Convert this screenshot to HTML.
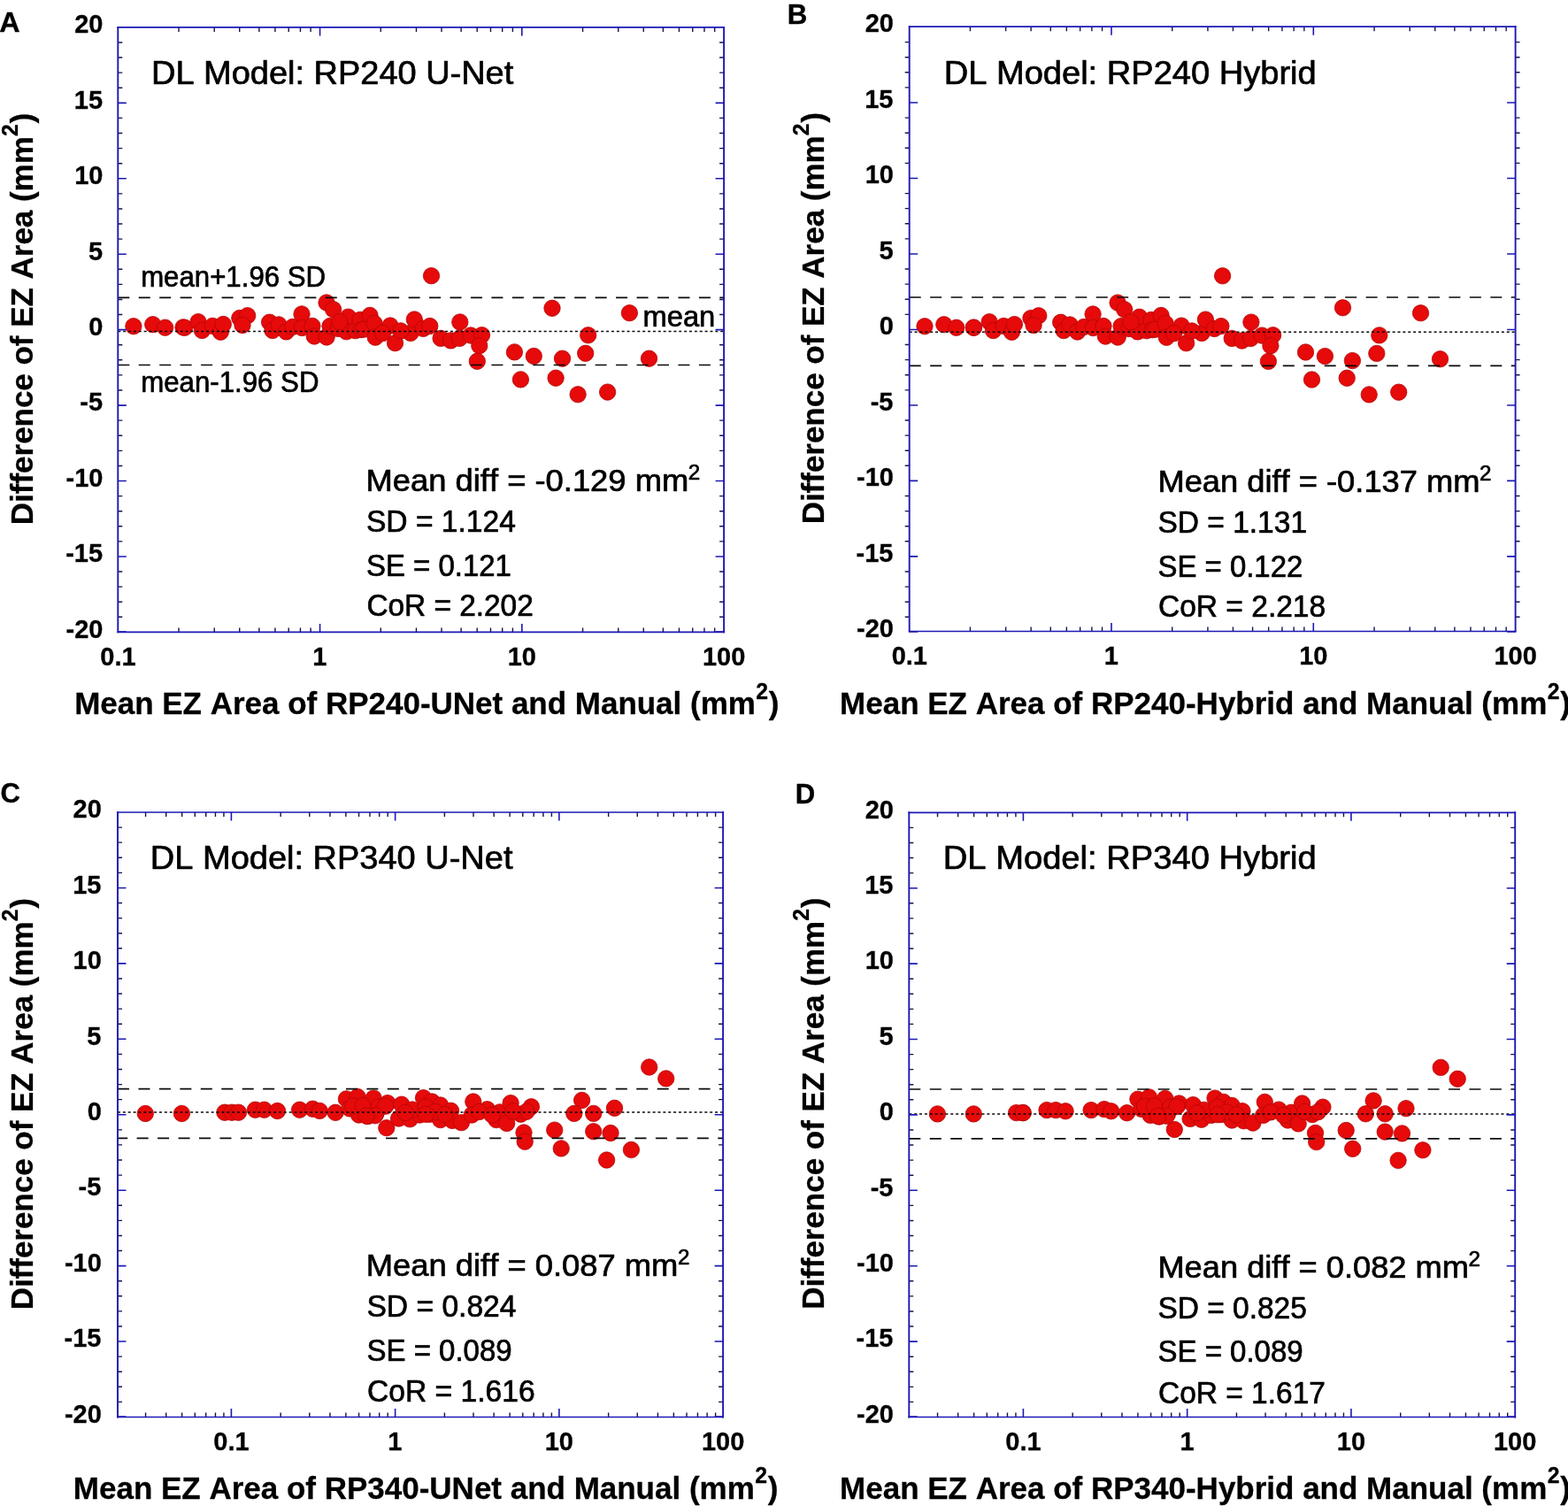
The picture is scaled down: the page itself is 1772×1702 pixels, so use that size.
<!DOCTYPE html>
<html lang="en"><head><meta charset="utf-8"><title>Bland-Altman plots of EZ area</title>
<style>html,body{margin:0;padding:0;background:#fff;overflow:hidden}svg{display:block}text{font-family:"Liberation Sans",Arial,Helvetica,sans-serif;fill:#000;font-kerning:none}.b{font-weight:bold;stroke:#000;stroke-width:0.3px;stroke-linejoin:round}.r{stroke:#000;stroke-width:0.7px;stroke-linejoin:round}</style></head><body>
<svg width="1772" height="1702" viewBox="0 0 1772 1702">
<rect width="1772" height="1702" fill="#ffffff"/>
<g id="panel-A">
<g fill="#e60a0a" stroke="#b40606" stroke-width="0.8">
<circle cx="150.9" cy="368.7" r="9.2"/>
<circle cx="172.7" cy="366.7" r="9.2"/>
<circle cx="186.6" cy="370.2" r="9.2"/>
<circle cx="207" cy="369.9" r="9.2"/>
<circle cx="208.7" cy="370.3" r="9.2"/>
<circle cx="224" cy="363.7" r="9.2"/>
<circle cx="228.4" cy="373.5" r="9.2"/>
<circle cx="240.2" cy="368.4" r="9.2"/>
<circle cx="249.3" cy="375.2" r="9.2"/>
<circle cx="252.3" cy="366.5" r="9.2"/>
<circle cx="270.8" cy="359.5" r="9.2"/>
<circle cx="279.7" cy="356.7" r="9.2"/>
<circle cx="274" cy="367.5" r="9.2"/>
<circle cx="304.6" cy="364.2" r="9.2"/>
<circle cx="308" cy="373.5" r="9.2"/>
<circle cx="315" cy="366.9" r="9.2"/>
<circle cx="323.5" cy="374.9" r="9.2"/>
<circle cx="330.8" cy="369.4" r="9.2"/>
<circle cx="341" cy="354.9" r="9.2"/>
<circle cx="341.3" cy="370.5" r="9.2"/>
<circle cx="352.9" cy="368.4" r="9.2"/>
<circle cx="355.2" cy="380" r="9.2"/>
<circle cx="369" cy="342" r="9.2"/>
<circle cx="376.6" cy="349.7" r="9.2"/>
<circle cx="369.1" cy="381" r="9.2"/>
<circle cx="373" cy="368.5" r="9.2"/>
<circle cx="382" cy="371.4" r="9.2"/>
<circle cx="393.5" cy="358.2" r="9.2"/>
<circle cx="391.5" cy="374.8" r="9.2"/>
<circle cx="401.6" cy="373.7" r="9.2"/>
<circle cx="407" cy="361.4" r="9.2"/>
<circle cx="408.2" cy="372.6" r="9.2"/>
<circle cx="411.1" cy="372.1" r="9.2"/>
<circle cx="418" cy="356.4" r="9.2"/>
<circle cx="423" cy="365.4" r="9.2"/>
<circle cx="424.2" cy="381.2" r="9.2"/>
<circle cx="441" cy="368" r="9.2"/>
<circle cx="446.5" cy="387.7" r="9.2"/>
<circle cx="464" cy="376.4" r="9.2"/>
<circle cx="468.3" cy="361" r="9.2"/>
<circle cx="478.3" cy="371.4" r="9.2"/>
<circle cx="485.8" cy="368.5" r="9.2"/>
<circle cx="487.5" cy="311.7" r="9.2"/>
<circle cx="498.1" cy="382.4" r="9.2"/>
<circle cx="509.4" cy="384.9" r="9.2"/>
<circle cx="519.8" cy="364" r="9.2"/>
<circle cx="519.3" cy="382.4" r="9.2"/>
<circle cx="532" cy="379" r="9.2"/>
<circle cx="544.5" cy="378.7" r="9.2"/>
<circle cx="541.8" cy="390.7" r="9.2"/>
<circle cx="539.3" cy="408.3" r="9.2"/>
<circle cx="581.4" cy="397.9" r="9.2"/>
<circle cx="624" cy="348.3" r="9.2"/>
<circle cx="711.4" cy="353.7" r="9.2"/>
<circle cx="664.7" cy="378.8" r="9.2"/>
<circle cx="603.3" cy="402.5" r="9.2"/>
<circle cx="635.5" cy="405.2" r="9.2"/>
<circle cx="661.7" cy="399.3" r="9.2"/>
<circle cx="733.5" cy="405.2" r="9.2"/>
<circle cx="588.4" cy="428.9" r="9.2"/>
<circle cx="628.1" cy="427.2" r="9.2"/>
<circle cx="653.1" cy="445.8" r="9.2"/>
<circle cx="686.6" cy="443.1" r="9.2"/>
<circle cx="383.8" cy="363.7" r="9.2"/>
<circle cx="432.5" cy="376.6" r="9.2"/>
<circle cx="452.8" cy="373.9" r="9.2"/>
</g>
<g stroke="#0a0a0a" fill="none">
<line x1="133.3" y1="336.4" x2="818.1" y2="336.4" stroke-width="1.7" stroke-dasharray="13 10.45"/>
<line x1="133.3" y1="412.5" x2="818.1" y2="412.5" stroke-width="1.7" stroke-dasharray="13 10.45"/>
<line x1="133.3" y1="374.6" x2="818.1" y2="374.6" stroke-width="1.5" stroke-dasharray="3 2.87"/>
</g>
<path d="M133.3 697.31h5M818.1 697.31h-5M133.3 680.22h5M818.1 680.22h-5M133.3 663.14h5M818.1 663.14h-5M133.3 646.05h5M818.1 646.05h-5M133.3 611.87h5M818.1 611.87h-5M133.3 594.79h5M818.1 594.79h-5M133.3 577.7h5M818.1 577.7h-5M133.3 560.61h5M818.1 560.61h-5M133.3 526.44h5M818.1 526.44h-5M133.3 509.35h5M818.1 509.35h-5M133.3 492.26h5M818.1 492.26h-5M133.3 475.17h5M818.1 475.17h-5M133.3 441h5M818.1 441h-5M133.3 423.91h5M818.1 423.91h-5M133.3 406.82h5M818.1 406.82h-5M133.3 389.74h5M818.1 389.74h-5M133.3 355.56h5M818.1 355.56h-5M133.3 338.47h5M818.1 338.47h-5M133.3 321.39h5M818.1 321.39h-5M133.3 304.3h5M818.1 304.3h-5M133.3 270.12h5M818.1 270.12h-5M133.3 253.04h5M818.1 253.04h-5M133.3 235.95h5M818.1 235.95h-5M133.3 218.86h5M818.1 218.86h-5M133.3 184.69h5M818.1 184.69h-5M133.3 167.6h5M818.1 167.6h-5M133.3 150.51h5M818.1 150.51h-5M133.3 133.42h5M818.1 133.42h-5M133.3 99.25h5M818.1 99.25h-5M133.3 82.16h5M818.1 82.16h-5M133.3 65.07h5M818.1 65.07h-5M133.3 47.99h5M818.1 47.99h-5M202.02 714.9v-5.5M202.02 30.9v5M242.21 714.9v-5.5M242.21 30.9v5M270.73 714.9v-5.5M270.73 30.9v5M292.85 714.9v-5.5M292.85 30.9v5M310.93 714.9v-5.5M310.93 30.9v5M326.21 714.9v-5.5M326.21 30.9v5M339.45 714.9v-5.5M339.45 30.9v5M351.12 714.9v-5.5M351.12 30.9v5M430.28 714.9v-5.5M430.28 30.9v5M470.48 714.9v-5.5M470.48 30.9v5M499 714.9v-5.5M499 30.9v5M521.12 714.9v-5.5M521.12 30.9v5M539.19 714.9v-5.5M539.19 30.9v5M554.47 714.9v-5.5M554.47 30.9v5M567.71 714.9v-5.5M567.71 30.9v5M579.39 714.9v-5.5M579.39 30.9v5M658.55 714.9v-5.5M658.55 30.9v5M698.74 714.9v-5.5M698.74 30.9v5M727.26 714.9v-5.5M727.26 30.9v5M749.38 714.9v-5.5M749.38 30.9v5M767.46 714.9v-5.5M767.46 30.9v5M782.74 714.9v-5.5M782.74 30.9v5M795.98 714.9v-5.5M795.98 30.9v5M807.66 714.9v-5.5M807.66 30.9v5" stroke="#16144a" stroke-width="1.4" fill="none"/>
<path d="M133.3 714h9.5M818.1 714h-9.5M133.3 628.96h9.5M818.1 628.96h-9.5M133.3 543.52h9.5M818.1 543.52h-9.5M133.3 458.09h9.5M818.1 458.09h-9.5M133.3 372.65h9.5M818.1 372.65h-9.5M133.3 287.21h9.5M818.1 287.21h-9.5M133.3 201.78h9.5M818.1 201.78h-9.5M133.3 116.34h9.5M818.1 116.34h-9.5M361.57 714.4v-9.5M361.57 30.9v9.5M589.83 714.4v-9.5M589.83 30.9v9.5" stroke="#1c18b4" stroke-width="1.6" fill="none"/>
<path d="M133.3 30.9H818.1M133.3 714.4H818.1" stroke="#1c18b4" stroke-width="1.7" fill="none" stroke-linecap="square"/>
<path d="M133.3 30.9V714.4M818.1 30.9V714.4" stroke="#1c18b4" stroke-width="1.9" fill="none" stroke-linecap="square"/>
<text class="b" transform="translate(84.23 37.2) scale(1 1.04)" font-size="29">20</text>
<text class="b" transform="translate(83.85 122.64) scale(1 1.04)" font-size="29">15</text>
<text class="b" transform="translate(84.23 208.08) scale(1 1.04)" font-size="29">10</text>
<text class="b" transform="translate(99.98 293.51) scale(1 1.04)" font-size="29">5</text>
<text class="b" transform="translate(100.36 378.95) scale(1 1.04)" font-size="29">0</text>
<text class="b" transform="translate(90.32 464.39) scale(1 1.04)" font-size="29">-5</text>
<text class="b" transform="translate(74.58 549.82) scale(1 1.04)" font-size="29">-10</text>
<text class="b" transform="translate(74.19 635.26) scale(1 1.04)" font-size="29">-15</text>
<text class="b" transform="translate(74.58 720.7) scale(1 1.04)" font-size="29">-20</text>
<text class="b" transform="translate(113.27 752.2) scale(1 1.04)" font-size="29">0.1</text>
<text class="b" transform="translate(353.29 752.2) scale(1 1.04)" font-size="29">1</text>
<text class="b" transform="translate(573.69 752.2) scale(1 1.04)" font-size="29">10</text>
<text class="b" transform="translate(793.89 752.2) scale(1 1.04)" font-size="29">100</text>
<text class="b" transform="translate(0 807) scale(1 1.01)"><tspan x="84.16" y="0" font-size="35.1" textLength="769.71" lengthAdjust="spacingAndGlyphs">Mean EZ Area of RP240-UNet and Manual (mm</tspan><tspan x="854.34" y="-17.04" font-size="24.8">2</tspan><tspan x="868.87" y="0" font-size="35.1">)</tspan></text>
<g transform="translate(37 590.8) rotate(-90)">
<text class="b" transform="translate(0 0) scale(1 1.01)"><tspan x="-2.34" y="0" font-size="35.1" textLength="438.91" lengthAdjust="spacingAndGlyphs">Difference of EZ Area (mm</tspan><tspan x="436.74" y="-16.95" font-size="24.8">2</tspan><tspan x="451.27" y="0" font-size="35.1">)</tspan></text>
</g>
<text class="b" transform="translate(-0.81 36.4) scale(1 1.04)" font-size="29.6" textLength="23.36" lengthAdjust="spacingAndGlyphs">A</text>
<text class="r" x="170.99" y="94.9" font-size="36.9" textLength="409.29" lengthAdjust="spacingAndGlyphs">DL Model: RP240 U-Net</text>
<text class="r" transform="translate(0 555.3) scale(1 1)"><tspan x="413.52" y="0" font-size="34.6" textLength="364.68" lengthAdjust="spacingAndGlyphs">Mean diff = -0.129 mm</tspan><tspan x="777.68" y="-13" font-size="24.2">2</tspan></text>
<text class="r" x="413.98" y="601.3" font-size="34.6" textLength="168.91" lengthAdjust="spacingAndGlyphs">SD = 1.124</text>
<text class="r" x="414" y="651" font-size="34.6" textLength="163.9" lengthAdjust="spacingAndGlyphs">SE = 0.121</text>
<text class="r" x="414.4" y="696.3" font-size="34.6" textLength="188.37" lengthAdjust="spacingAndGlyphs">CoR = 2.202</text>
<text class="r" x="159.13" y="324" font-size="32.4" textLength="208.96" lengthAdjust="spacingAndGlyphs">mean+1.96 SD</text>
<text class="r" x="159.13" y="443" font-size="32.4" textLength="201.37" lengthAdjust="spacingAndGlyphs">mean-1.96 SD</text>
<text class="r" x="726.43" y="368.5" font-size="32.4" textLength="81.9" lengthAdjust="spacingAndGlyphs">mean</text>
</g>
<g id="panel-B">
<g fill="#e60a0a" stroke="#b40606" stroke-width="0.8">
<circle cx="1045" cy="368.8" r="9.2"/>
<circle cx="1066.8" cy="366.8" r="9.2"/>
<circle cx="1080.7" cy="370.3" r="9.2"/>
<circle cx="1100.4" cy="370.2" r="9.2"/>
<circle cx="1100.4" cy="370.2" r="9.2"/>
<circle cx="1118.1" cy="363.8" r="9.2"/>
<circle cx="1122.5" cy="373.6" r="9.2"/>
<circle cx="1134.3" cy="368.5" r="9.2"/>
<circle cx="1143.4" cy="375.3" r="9.2"/>
<circle cx="1146.4" cy="366.6" r="9.2"/>
<circle cx="1164.9" cy="359.6" r="9.2"/>
<circle cx="1173.8" cy="356.8" r="9.2"/>
<circle cx="1168.1" cy="367.6" r="9.2"/>
<circle cx="1198.7" cy="364.3" r="9.2"/>
<circle cx="1202.1" cy="373.6" r="9.2"/>
<circle cx="1209.1" cy="367" r="9.2"/>
<circle cx="1217.6" cy="375" r="9.2"/>
<circle cx="1224.9" cy="369.5" r="9.2"/>
<circle cx="1235.1" cy="355" r="9.2"/>
<circle cx="1235.4" cy="370.6" r="9.2"/>
<circle cx="1247" cy="368.5" r="9.2"/>
<circle cx="1249.3" cy="380.1" r="9.2"/>
<circle cx="1263.1" cy="342.1" r="9.2"/>
<circle cx="1270.7" cy="349.8" r="9.2"/>
<circle cx="1263.2" cy="381.1" r="9.2"/>
<circle cx="1267.1" cy="368.6" r="9.2"/>
<circle cx="1276.1" cy="371.5" r="9.2"/>
<circle cx="1287.6" cy="358.3" r="9.2"/>
<circle cx="1285.6" cy="374.9" r="9.2"/>
<circle cx="1295.7" cy="373.8" r="9.2"/>
<circle cx="1301.1" cy="361.5" r="9.2"/>
<circle cx="1302.3" cy="372.7" r="9.2"/>
<circle cx="1305.2" cy="372.2" r="9.2"/>
<circle cx="1312.1" cy="356.5" r="9.2"/>
<circle cx="1317.1" cy="365.5" r="9.2"/>
<circle cx="1318.3" cy="381.3" r="9.2"/>
<circle cx="1335.1" cy="368.1" r="9.2"/>
<circle cx="1340.6" cy="387.8" r="9.2"/>
<circle cx="1358.1" cy="376.5" r="9.2"/>
<circle cx="1362.4" cy="361.1" r="9.2"/>
<circle cx="1372.4" cy="371.5" r="9.2"/>
<circle cx="1379.9" cy="368.6" r="9.2"/>
<circle cx="1381.6" cy="311.8" r="9.2"/>
<circle cx="1392.2" cy="382.5" r="9.2"/>
<circle cx="1403.5" cy="385" r="9.2"/>
<circle cx="1413.9" cy="364.1" r="9.2"/>
<circle cx="1413.4" cy="382.5" r="9.2"/>
<circle cx="1426.1" cy="379.1" r="9.2"/>
<circle cx="1438.6" cy="378.8" r="9.2"/>
<circle cx="1435.9" cy="390.8" r="9.2"/>
<circle cx="1433.4" cy="408.4" r="9.2"/>
<circle cx="1475.5" cy="398" r="9.2"/>
<circle cx="1517.5" cy="347.8" r="9.2"/>
<circle cx="1605.5" cy="353.8" r="9.2"/>
<circle cx="1558.8" cy="378.9" r="9.2"/>
<circle cx="1497.4" cy="402.6" r="9.2"/>
<circle cx="1528.4" cy="407.6" r="9.2"/>
<circle cx="1555.8" cy="399.4" r="9.2"/>
<circle cx="1627.5" cy="405.8" r="9.2"/>
<circle cx="1482.5" cy="429" r="9.2"/>
<circle cx="1522.2" cy="427.3" r="9.2"/>
<circle cx="1547.2" cy="445.9" r="9.2"/>
<circle cx="1580.7" cy="443.2" r="9.2"/>
<circle cx="1277.9" cy="363.8" r="9.2"/>
<circle cx="1326.6" cy="376.7" r="9.2"/>
<circle cx="1346.9" cy="374" r="9.2"/>
</g>
<g stroke="#0a0a0a" fill="none">
<line x1="1027.7" y1="336" x2="1712.6" y2="336" stroke-width="1.7" stroke-dasharray="13 10.45"/>
<line x1="1027.7" y1="413.4" x2="1712.6" y2="413.4" stroke-width="1.7" stroke-dasharray="13 10.45"/>
<line x1="1027.7" y1="375.3" x2="1712.6" y2="375.3" stroke-width="1.5" stroke-dasharray="3 2.87"/>
</g>
<path d="M1027.7 697.29h-5M1712.6 697.29h5M1027.7 680.2h-5M1712.6 680.2h5M1027.7 663.1h-5M1712.6 663.1h5M1027.7 646h-5M1712.6 646h5M1027.7 611.81h-5M1712.6 611.81h5M1027.7 594.71h-5M1712.6 594.71h5M1027.7 577.61h-5M1712.6 577.61h5M1027.7 560.52h-5M1712.6 560.52h5M1027.7 526.32h-5M1712.6 526.32h5M1027.7 509.23h-5M1712.6 509.23h5M1027.7 492.13h-5M1712.6 492.13h5M1027.7 475.03h-5M1712.6 475.03h5M1027.7 440.84h-5M1712.6 440.84h5M1027.7 423.74h-5M1712.6 423.74h5M1027.7 406.64h-5M1712.6 406.64h5M1027.7 389.55h-5M1712.6 389.55h5M1027.7 355.35h-5M1712.6 355.35h5M1027.7 338.26h-5M1712.6 338.26h5M1027.7 321.16h-5M1712.6 321.16h5M1027.7 304.06h-5M1712.6 304.06h5M1027.7 269.87h-5M1712.6 269.87h5M1027.7 252.77h-5M1712.6 252.77h5M1027.7 235.67h-5M1712.6 235.67h5M1027.7 218.58h-5M1712.6 218.58h5M1027.7 184.38h-5M1712.6 184.38h5M1027.7 167.29h-5M1712.6 167.29h5M1027.7 150.19h-5M1712.6 150.19h5M1027.7 133.09h-5M1712.6 133.09h5M1027.7 98.9h-5M1712.6 98.9h5M1027.7 81.8h-5M1712.6 81.8h5M1027.7 64.7h-5M1712.6 64.7h5M1027.7 47.61h-5M1712.6 47.61h5M1096.43 714v-5.5M1096.43 30.2v5M1136.63 714v-5.5M1136.63 30.2v5M1165.15 714v-5.5M1165.15 30.2v5M1187.27 714v-5.5M1187.27 30.2v5M1205.35 714v-5.5M1205.35 30.2v5M1220.64 714v-5.5M1220.64 30.2v5M1233.88 714v-5.5M1233.88 30.2v5M1245.55 714v-5.5M1245.55 30.2v5M1324.73 714v-5.5M1324.73 30.2v5M1364.93 714v-5.5M1364.93 30.2v5M1393.45 714v-5.5M1393.45 30.2v5M1415.57 714v-5.5M1415.57 30.2v5M1433.65 714v-5.5M1433.65 30.2v5M1448.94 714v-5.5M1448.94 30.2v5M1462.18 714v-5.5M1462.18 30.2v5M1473.85 714v-5.5M1473.85 30.2v5M1553.03 714v-5.5M1553.03 30.2v5M1593.23 714v-5.5M1593.23 30.2v5M1621.75 714v-5.5M1621.75 30.2v5M1643.87 714v-5.5M1643.87 30.2v5M1661.95 714v-5.5M1661.95 30.2v5M1677.24 714v-5.5M1677.24 30.2v5M1690.48 714v-5.5M1690.48 30.2v5M1702.15 714v-5.5M1702.15 30.2v5" stroke="#16144a" stroke-width="1.4" fill="none"/>
<path d="M1027.7 713.99h9.5M1712.6 713.99h-9.5M1027.7 628.9h9.5M1712.6 628.9h-9.5M1027.7 543.42h9.5M1712.6 543.42h-9.5M1027.7 457.94h9.5M1712.6 457.94h-9.5M1027.7 372.45h9.5M1712.6 372.45h-9.5M1027.7 286.96h9.5M1712.6 286.96h-9.5M1027.7 201.48h9.5M1712.6 201.48h-9.5M1027.7 115.99h9.5M1712.6 115.99h-9.5M1256 713.5v-9.5M1256 30.2v9.5M1484.3 713.5v-9.5M1484.3 30.2v9.5" stroke="#1c18b4" stroke-width="1.6" fill="none"/>
<path d="M1027.7 30.2H1712.6M1027.7 713.5H1712.6" stroke="#1c18b4" stroke-width="1.7" fill="none" stroke-linecap="square"/>
<path d="M1027.7 30.2V713.5M1712.6 30.2V713.5" stroke="#1c18b4" stroke-width="1.9" fill="none" stroke-linecap="square"/>
<text class="b" transform="translate(977.63 36.31) scale(1 1.04)" font-size="29">20</text>
<text class="b" transform="translate(977.25 121.79) scale(1 1.04)" font-size="29">15</text>
<text class="b" transform="translate(977.63 207.28) scale(1 1.04)" font-size="29">10</text>
<text class="b" transform="translate(993.38 292.76) scale(1 1.04)" font-size="29">5</text>
<text class="b" transform="translate(993.76 378.25) scale(1 1.04)" font-size="29">0</text>
<text class="b" transform="translate(983.72 463.74) scale(1 1.04)" font-size="29">-5</text>
<text class="b" transform="translate(967.98 549.22) scale(1 1.04)" font-size="29">-10</text>
<text class="b" transform="translate(967.59 634.7) scale(1 1.04)" font-size="29">-15</text>
<text class="b" transform="translate(967.98 720.19) scale(1 1.04)" font-size="29">-20</text>
<text class="b" transform="translate(1007.67 751.3) scale(1 1.04)" font-size="29">0.1</text>
<text class="b" transform="translate(1247.73 751.3) scale(1 1.04)" font-size="29">1</text>
<text class="b" transform="translate(1468.15 751.3) scale(1 1.04)" font-size="29">10</text>
<text class="b" transform="translate(1688.39 751.3) scale(1 1.04)" font-size="29">100</text>
<text class="b" transform="translate(0 807) scale(1 1.01)"><tspan x="949.06" y="0" font-size="35.1" textLength="799.21" lengthAdjust="spacingAndGlyphs">Mean EZ Area of RP240-Hybrid and Manual (mm</tspan><tspan x="1748.74" y="-17.04" font-size="24.8">2</tspan><tspan x="1763.27" y="0" font-size="35.1">)</tspan></text>
<g transform="translate(931 590) rotate(-90)">
<text class="b" transform="translate(0 0) scale(1 1.01)"><tspan x="-2.34" y="0" font-size="35.1" textLength="438.91" lengthAdjust="spacingAndGlyphs">Difference of EZ Area (mm</tspan><tspan x="436.74" y="-16.95" font-size="24.8">2</tspan><tspan x="451.27" y="0" font-size="35.1">)</tspan></text>
</g>
<text class="b" transform="translate(889.8 27.1) scale(1 1.04)" font-size="29.6" textLength="22.62" lengthAdjust="spacingAndGlyphs">B</text>
<text class="r" x="1066.68" y="94.9" font-size="36.9" textLength="421.08" lengthAdjust="spacingAndGlyphs">DL Model: RP240 Hybrid</text>
<text class="r" transform="translate(0 556.2) scale(1 1)"><tspan x="1308.42" y="0" font-size="34.6" textLength="364.07" lengthAdjust="spacingAndGlyphs">Mean diff = -0.137 mm</tspan><tspan x="1671.98" y="-13" font-size="24.2">2</tspan></text>
<text class="r" x="1308.48" y="602.4" font-size="34.6" textLength="168.56" lengthAdjust="spacingAndGlyphs">SD = 1.131</text>
<text class="r" x="1308.51" y="651.7" font-size="34.6" textLength="163.75" lengthAdjust="spacingAndGlyphs">SE = 0.122</text>
<text class="r" x="1309" y="697.2" font-size="34.6" textLength="189.16" lengthAdjust="spacingAndGlyphs">CoR = 2.218</text>
</g>
<g id="panel-C">
<g fill="#e60a0a" stroke="#b40606" stroke-width="0.8">
<circle cx="164.3" cy="1258.5" r="9.2"/>
<circle cx="205.4" cy="1258.5" r="9.2"/>
<circle cx="253.9" cy="1257.2" r="9.2"/>
<circle cx="262.1" cy="1257.2" r="9.2"/>
<circle cx="269.5" cy="1257.2" r="9.2"/>
<circle cx="288.5" cy="1254.2" r="9.2"/>
<circle cx="298.6" cy="1254.2" r="9.2"/>
<circle cx="313.5" cy="1255.5" r="9.2"/>
<circle cx="338.6" cy="1254.2" r="9.2"/>
<circle cx="353.4" cy="1253.2" r="9.2"/>
<circle cx="361.2" cy="1255.4" r="9.2"/>
<circle cx="379.1" cy="1257.3" r="9.2"/>
<circle cx="391.4" cy="1241.9" r="9.2"/>
<circle cx="404" cy="1239.5" r="9.2"/>
<circle cx="422.2" cy="1241.1" r="9.2"/>
<circle cx="438" cy="1246.6" r="9.2"/>
<circle cx="453.8" cy="1248.2" r="9.2"/>
<circle cx="478.5" cy="1240.7" r="9.2"/>
<circle cx="395.3" cy="1252.9" r="9.2"/>
<circle cx="405.6" cy="1260" r="9.2"/>
<circle cx="415.5" cy="1261.6" r="9.2"/>
<circle cx="425" cy="1258.5" r="9.2"/>
<circle cx="436.8" cy="1274.7" r="9.2"/>
<circle cx="450.6" cy="1264" r="9.2"/>
<circle cx="463.3" cy="1264.8" r="9.2"/>
<circle cx="474.3" cy="1260" r="9.2"/>
<circle cx="466" cy="1254" r="9.2"/>
<circle cx="488.2" cy="1245" r="9.2"/>
<circle cx="497.7" cy="1249" r="9.2"/>
<circle cx="509.5" cy="1255.3" r="9.2"/>
<circle cx="485.8" cy="1259.2" r="9.2"/>
<circle cx="497.7" cy="1265.6" r="9.2"/>
<circle cx="511.1" cy="1266.4" r="9.2"/>
<circle cx="521.4" cy="1268.7" r="9.2"/>
<circle cx="534.8" cy="1245" r="9.2"/>
<circle cx="533.2" cy="1260" r="9.2"/>
<circle cx="550.6" cy="1253.7" r="9.2"/>
<circle cx="560.9" cy="1265.6" r="9.2"/>
<circle cx="564.8" cy="1256.9" r="9.2"/>
<circle cx="572.7" cy="1269.5" r="9.2"/>
<circle cx="577.1" cy="1246.6" r="9.2"/>
<circle cx="588.5" cy="1259.2" r="9.2"/>
<circle cx="600.4" cy="1250.8" r="9.2"/>
<circle cx="595" cy="1256.3" r="9.2"/>
<circle cx="592" cy="1280" r="9.2"/>
<circle cx="593.2" cy="1290.2" r="9.2"/>
<circle cx="733.7" cy="1206" r="9.2"/>
<circle cx="752.7" cy="1218.9" r="9.2"/>
<circle cx="657.6" cy="1243.5" r="9.2"/>
<circle cx="694.5" cy="1252.3" r="9.2"/>
<circle cx="648.8" cy="1258.4" r="9.2"/>
<circle cx="670.7" cy="1258.4" r="9.2"/>
<circle cx="626.7" cy="1277.1" r="9.2"/>
<circle cx="670.7" cy="1278.7" r="9.2"/>
<circle cx="690" cy="1280.5" r="9.2"/>
<circle cx="634.2" cy="1297.9" r="9.2"/>
<circle cx="713.4" cy="1299.4" r="9.2"/>
<circle cx="685.6" cy="1311" r="9.2"/>
<circle cx="399" cy="1250" r="9.2"/>
<circle cx="410" cy="1249.5" r="9.2"/>
<circle cx="428" cy="1251" r="9.2"/>
<circle cx="435.5" cy="1250.2" r="9.2"/>
<circle cx="423.8" cy="1260.8" r="9.2"/>
<circle cx="414" cy="1261" r="9.2"/>
<circle cx="458" cy="1257.5" r="9.2"/>
<circle cx="481" cy="1251" r="9.2"/>
<circle cx="492" cy="1256.5" r="9.2"/>
<circle cx="503" cy="1259.5" r="9.2"/>
<circle cx="541.5" cy="1256.5" r="9.2"/>
<circle cx="556" cy="1260" r="9.2"/>
<circle cx="580" cy="1256" r="9.2"/>
<circle cx="481.3" cy="1259.3" r="9.2"/>
</g>
<g stroke="#0a0a0a" fill="none">
<line x1="133" y1="1230.6" x2="817.1" y2="1230.6" stroke-width="1.7" stroke-dasharray="13 10.45"/>
<line x1="133" y1="1286.3" x2="817.1" y2="1286.3" stroke-width="1.7" stroke-dasharray="13 10.45" stroke-dashoffset="1.8"/>
<line x1="133" y1="1257" x2="817.1" y2="1257" stroke-width="1.5" stroke-dasharray="3 2.87"/>
</g>
<path d="M133 1584.41h5M817.1 1584.41h-5M133 1567.32h5M817.1 1567.32h-5M133 1550.24h5M817.1 1550.24h-5M133 1533.15h5M817.1 1533.15h-5M133 1498.97h5M817.1 1498.97h-5M133 1481.89h5M817.1 1481.89h-5M133 1464.8h5M817.1 1464.8h-5M133 1447.71h5M817.1 1447.71h-5M133 1413.54h5M817.1 1413.54h-5M133 1396.45h5M817.1 1396.45h-5M133 1379.36h5M817.1 1379.36h-5M133 1362.28h5M817.1 1362.28h-5M133 1328.1h5M817.1 1328.1h-5M133 1311.01h5M817.1 1311.01h-5M133 1293.92h5M817.1 1293.92h-5M133 1276.84h5M817.1 1276.84h-5M133 1242.66h5M817.1 1242.66h-5M133 1225.58h5M817.1 1225.58h-5M133 1208.49h5M817.1 1208.49h-5M133 1191.4h5M817.1 1191.4h-5M133 1157.22h5M817.1 1157.22h-5M133 1140.14h5M817.1 1140.14h-5M133 1123.05h5M817.1 1123.05h-5M133 1105.96h5M817.1 1105.96h-5M133 1071.79h5M817.1 1071.79h-5M133 1054.7h5M817.1 1054.7h-5M133 1037.61h5M817.1 1037.61h-5M133 1020.52h5M817.1 1020.52h-5M133 986.35h5M817.1 986.35h-5M133 969.26h5M817.1 969.26h-5M133 952.17h5M817.1 952.17h-5M133 935.09h5M817.1 935.09h-5M164.55 1602v-5.5M164.55 918v5M187.69 1602v-5.5M187.69 918v5M205.64 1602v-5.5M205.64 918v5M220.31 1602v-5.5M220.31 918v5M232.71 1602v-5.5M232.71 918v5M243.45 1602v-5.5M243.45 918v5M252.92 1602v-5.5M252.92 918v5M317.16 1602v-5.5M317.16 918v5M349.78 1602v-5.5M349.78 918v5M372.92 1602v-5.5M372.92 918v5M390.87 1602v-5.5M390.87 918v5M405.54 1602v-5.5M405.54 918v5M417.94 1602v-5.5M417.94 918v5M428.68 1602v-5.5M428.68 918v5M438.16 1602v-5.5M438.16 918v5M502.39 1602v-5.5M502.39 918v5M535.01 1602v-5.5M535.01 918v5M558.15 1602v-5.5M558.15 918v5M576.11 1602v-5.5M576.11 918v5M590.77 1602v-5.5M590.77 918v5M603.17 1602v-5.5M603.17 918v5M613.92 1602v-5.5M613.92 918v5M623.39 1602v-5.5M623.39 918v5M687.63 1602v-5.5M687.63 918v5M720.25 1602v-5.5M720.25 918v5M743.39 1602v-5.5M743.39 918v5M761.34 1602v-5.5M761.34 918v5M776.01 1602v-5.5M776.01 918v5M788.41 1602v-5.5M788.41 918v5M799.15 1602v-5.5M799.15 918v5M808.62 1602v-5.5M808.62 918v5" stroke="#16144a" stroke-width="1.4" fill="none"/>
<path d="M133 1601.1h9.5M817.1 1601.1h-9.5M133 1516.06h9.5M817.1 1516.06h-9.5M133 1430.62h9.5M817.1 1430.62h-9.5M133 1345.19h9.5M817.1 1345.19h-9.5M133 1259.75h9.5M817.1 1259.75h-9.5M133 1174.31h9.5M817.1 1174.31h-9.5M133 1088.88h9.5M817.1 1088.88h-9.5M133 1003.44h9.5M817.1 1003.44h-9.5M261.4 1601.5v-9.5M261.4 918v9.5M446.63 1601.5v-9.5M446.63 918v9.5M631.87 1601.5v-9.5M631.87 918v9.5" stroke="#1c18b4" stroke-width="1.6" fill="none"/>
<path d="M133 918H817.1M133 1601.5H817.1" stroke="#1c18b4" stroke-width="1.7" fill="none" stroke-linecap="square"/>
<path d="M133 918V1601.5M817.1 918V1601.5" stroke="#1c18b4" stroke-width="1.9" fill="none" stroke-linecap="square"/>
<text class="b" transform="translate(82.53 924.3) scale(1 1.04)" font-size="29">20</text>
<text class="b" transform="translate(82.15 1009.74) scale(1 1.04)" font-size="29">15</text>
<text class="b" transform="translate(82.53 1095.17) scale(1 1.04)" font-size="29">10</text>
<text class="b" transform="translate(98.28 1180.61) scale(1 1.04)" font-size="29">5</text>
<text class="b" transform="translate(98.66 1266.05) scale(1 1.04)" font-size="29">0</text>
<text class="b" transform="translate(88.62 1351.49) scale(1 1.04)" font-size="29">-5</text>
<text class="b" transform="translate(72.88 1436.92) scale(1 1.04)" font-size="29">-10</text>
<text class="b" transform="translate(72.49 1522.36) scale(1 1.04)" font-size="29">-15</text>
<text class="b" transform="translate(72.88 1607.8) scale(1 1.04)" font-size="29">-20</text>
<text class="b" transform="translate(241.37 1639.3) scale(1 1.04)" font-size="29">0.1</text>
<text class="b" transform="translate(438.36 1639.3) scale(1 1.04)" font-size="29">1</text>
<text class="b" transform="translate(615.72 1639.3) scale(1 1.04)" font-size="29">10</text>
<text class="b" transform="translate(792.89 1639.3) scale(1 1.04)" font-size="29">100</text>
<text class="b" transform="translate(0 1693.5) scale(1 1.01)"><tspan x="82.86" y="0" font-size="35.1" textLength="769.91" lengthAdjust="spacingAndGlyphs">Mean EZ Area of RP340-UNet and Manual (mm</tspan><tspan x="853.24" y="-17.04" font-size="24.8">2</tspan><tspan x="867.77" y="0" font-size="35.1">)</tspan></text>
<g transform="translate(37 1478) rotate(-90)">
<text class="b" transform="translate(0 0) scale(1 1.01)"><tspan x="-2.34" y="0" font-size="35.1" textLength="438.91" lengthAdjust="spacingAndGlyphs">Difference of EZ Area (mm</tspan><tspan x="436.74" y="-16.95" font-size="24.8">2</tspan><tspan x="451.27" y="0" font-size="35.1">)</tspan></text>
</g>
<text class="b" transform="translate(0.43 907.2) scale(1 1.04)" font-size="29.6" textLength="22.42" lengthAdjust="spacingAndGlyphs">C</text>
<text class="r" x="169.88" y="981.9" font-size="36.9" textLength="409.59" lengthAdjust="spacingAndGlyphs">DL Model: RP340 U-Net</text>
<text class="r" transform="translate(0 1442.2) scale(1 1)"><tspan x="413.72" y="0" font-size="34.6" textLength="352.68" lengthAdjust="spacingAndGlyphs">Mean diff = 0.087 mm</tspan><tspan x="765.88" y="-13" font-size="24.2">2</tspan></text>
<text class="r" x="414.47" y="1488.2" font-size="34.6" textLength="169.01" lengthAdjust="spacingAndGlyphs">SD = 0.824</text>
<text class="r" x="414.5" y="1537.5" font-size="34.6" textLength="164.16" lengthAdjust="spacingAndGlyphs">SE = 0.089</text>
<text class="r" x="414.99" y="1583.7" font-size="34.6" textLength="189.68" lengthAdjust="spacingAndGlyphs">CoR = 1.616</text>
</g>
<g id="panel-D">
<g fill="#e60a0a" stroke="#b40606" stroke-width="0.8">
<circle cx="1059.4" cy="1258.9" r="9.2"/>
<circle cx="1100.3" cy="1258.9" r="9.2"/>
<circle cx="1148.6" cy="1257.6" r="9.2"/>
<circle cx="1156.1" cy="1257.6" r="9.2"/>
<circle cx="1156.1" cy="1257.6" r="9.2"/>
<circle cx="1183" cy="1254.6" r="9.2"/>
<circle cx="1193.1" cy="1254.6" r="9.2"/>
<circle cx="1204.1" cy="1255.8" r="9.2"/>
<circle cx="1233.1" cy="1254.6" r="9.2"/>
<circle cx="1247.9" cy="1253.6" r="9.2"/>
<circle cx="1255.7" cy="1255.8" r="9.2"/>
<circle cx="1273.6" cy="1257.7" r="9.2"/>
<circle cx="1285.9" cy="1242.3" r="9.2"/>
<circle cx="1298.5" cy="1239.9" r="9.2"/>
<circle cx="1316.7" cy="1241.5" r="9.2"/>
<circle cx="1332.5" cy="1247" r="9.2"/>
<circle cx="1348.3" cy="1248.6" r="9.2"/>
<circle cx="1373" cy="1241.1" r="9.2"/>
<circle cx="1289.8" cy="1253.3" r="9.2"/>
<circle cx="1300.1" cy="1260.4" r="9.2"/>
<circle cx="1310" cy="1262" r="9.2"/>
<circle cx="1319.5" cy="1258.9" r="9.2"/>
<circle cx="1327.3" cy="1276.5" r="9.2"/>
<circle cx="1345.1" cy="1264.4" r="9.2"/>
<circle cx="1357.8" cy="1265.2" r="9.2"/>
<circle cx="1368.8" cy="1260.4" r="9.2"/>
<circle cx="1360.5" cy="1254.4" r="9.2"/>
<circle cx="1382.7" cy="1245.4" r="9.2"/>
<circle cx="1392.2" cy="1249.4" r="9.2"/>
<circle cx="1404" cy="1255.7" r="9.2"/>
<circle cx="1380.3" cy="1259.6" r="9.2"/>
<circle cx="1392.2" cy="1266" r="9.2"/>
<circle cx="1405.6" cy="1266.8" r="9.2"/>
<circle cx="1415.9" cy="1269.1" r="9.2"/>
<circle cx="1429.3" cy="1245.4" r="9.2"/>
<circle cx="1427.7" cy="1260.4" r="9.2"/>
<circle cx="1445.1" cy="1254.1" r="9.2"/>
<circle cx="1455.4" cy="1266" r="9.2"/>
<circle cx="1459.3" cy="1257.3" r="9.2"/>
<circle cx="1467.2" cy="1269.9" r="9.2"/>
<circle cx="1471.6" cy="1247" r="9.2"/>
<circle cx="1483" cy="1259.6" r="9.2"/>
<circle cx="1494.9" cy="1251.2" r="9.2"/>
<circle cx="1489.5" cy="1256.7" r="9.2"/>
<circle cx="1486.5" cy="1280.4" r="9.2"/>
<circle cx="1487.7" cy="1290.6" r="9.2"/>
<circle cx="1628.2" cy="1206.4" r="9.2"/>
<circle cx="1647.2" cy="1219.3" r="9.2"/>
<circle cx="1552.1" cy="1243.9" r="9.2"/>
<circle cx="1589" cy="1252.7" r="9.2"/>
<circle cx="1543.3" cy="1258.8" r="9.2"/>
<circle cx="1565.2" cy="1258.8" r="9.2"/>
<circle cx="1521.2" cy="1277.5" r="9.2"/>
<circle cx="1565.2" cy="1279.1" r="9.2"/>
<circle cx="1584.5" cy="1280.9" r="9.2"/>
<circle cx="1528.7" cy="1298.3" r="9.2"/>
<circle cx="1607.9" cy="1299.8" r="9.2"/>
<circle cx="1580.1" cy="1311.4" r="9.2"/>
<circle cx="1293.5" cy="1250.4" r="9.2"/>
<circle cx="1304.5" cy="1249.9" r="9.2"/>
<circle cx="1322.5" cy="1251.4" r="9.2"/>
<circle cx="1330" cy="1250.6" r="9.2"/>
<circle cx="1318.3" cy="1261.2" r="9.2"/>
<circle cx="1308.5" cy="1261.4" r="9.2"/>
<circle cx="1352.5" cy="1257.9" r="9.2"/>
<circle cx="1375.5" cy="1251.4" r="9.2"/>
<circle cx="1386.5" cy="1256.9" r="9.2"/>
<circle cx="1397.5" cy="1259.9" r="9.2"/>
<circle cx="1436" cy="1256.9" r="9.2"/>
<circle cx="1450.5" cy="1260.4" r="9.2"/>
<circle cx="1474.5" cy="1256.4" r="9.2"/>
<circle cx="1375.8" cy="1259.7" r="9.2"/>
</g>
<g stroke="#0a0a0a" fill="none">
<line x1="1027.3" y1="1231" x2="1712.2" y2="1231" stroke-width="1.7" stroke-dasharray="13 10.45"/>
<line x1="1027.3" y1="1286.8" x2="1712.2" y2="1286.8" stroke-width="1.7" stroke-dasharray="13 10.45"/>
<line x1="1027.3" y1="1259.1" x2="1712.2" y2="1259.1" stroke-width="1.5" stroke-dasharray="3 2.87"/>
</g>
<path d="M1027.3 1584.42h5M1712.2 1584.42h-5M1027.3 1567.34h5M1712.2 1567.34h-5M1027.3 1550.26h5M1712.2 1550.26h-5M1027.3 1533.18h5M1712.2 1533.18h-5M1027.3 1499.02h5M1712.2 1499.02h-5M1027.3 1481.94h5M1712.2 1481.94h-5M1027.3 1464.86h5M1712.2 1464.86h-5M1027.3 1447.78h5M1712.2 1447.78h-5M1027.3 1413.62h5M1712.2 1413.62h-5M1027.3 1396.54h5M1712.2 1396.54h-5M1027.3 1379.46h5M1712.2 1379.46h-5M1027.3 1362.38h5M1712.2 1362.38h-5M1027.3 1328.22h5M1712.2 1328.22h-5M1027.3 1311.14h5M1712.2 1311.14h-5M1027.3 1294.06h5M1712.2 1294.06h-5M1027.3 1276.98h5M1712.2 1276.98h-5M1027.3 1242.82h5M1712.2 1242.82h-5M1027.3 1225.74h5M1712.2 1225.74h-5M1027.3 1208.66h5M1712.2 1208.66h-5M1027.3 1191.58h5M1712.2 1191.58h-5M1027.3 1157.42h5M1712.2 1157.42h-5M1027.3 1140.34h5M1712.2 1140.34h-5M1027.3 1123.26h5M1712.2 1123.26h-5M1027.3 1106.18h5M1712.2 1106.18h-5M1027.3 1072.02h5M1712.2 1072.02h-5M1027.3 1054.94h5M1712.2 1054.94h-5M1027.3 1037.86h5M1712.2 1037.86h-5M1027.3 1020.78h5M1712.2 1020.78h-5M1027.3 986.62h5M1712.2 986.62h-5M1027.3 969.54h5M1712.2 969.54h-5M1027.3 952.46h5M1712.2 952.46h-5M1027.3 935.38h5M1712.2 935.38h-5M1059.53 1602v-5.5M1059.53 918.3v5M1082.67 1602v-5.5M1082.67 918.3v5M1100.63 1602v-5.5M1100.63 918.3v5M1115.3 1602v-5.5M1115.3 918.3v5M1127.7 1602v-5.5M1127.7 918.3v5M1138.45 1602v-5.5M1138.45 918.3v5M1147.92 1602v-5.5M1147.92 918.3v5M1212.17 1602v-5.5M1212.17 918.3v5M1244.79 1602v-5.5M1244.79 918.3v5M1267.94 1602v-5.5M1267.94 918.3v5M1285.9 1602v-5.5M1285.9 918.3v5M1300.57 1602v-5.5M1300.57 918.3v5M1312.97 1602v-5.5M1312.97 918.3v5M1323.71 1602v-5.5M1323.71 918.3v5M1333.19 1602v-5.5M1333.19 918.3v5M1397.44 1602v-5.5M1397.44 918.3v5M1430.06 1602v-5.5M1430.06 918.3v5M1453.21 1602v-5.5M1453.21 918.3v5M1471.16 1602v-5.5M1471.16 918.3v5M1485.83 1602v-5.5M1485.83 918.3v5M1498.24 1602v-5.5M1498.24 918.3v5M1508.98 1602v-5.5M1508.98 918.3v5M1518.46 1602v-5.5M1518.46 918.3v5M1582.7 1602v-5.5M1582.7 918.3v5M1615.33 1602v-5.5M1615.33 918.3v5M1638.47 1602v-5.5M1638.47 918.3v5M1656.43 1602v-5.5M1656.43 918.3v5M1671.1 1602v-5.5M1671.1 918.3v5M1683.5 1602v-5.5M1683.5 918.3v5M1694.25 1602v-5.5M1694.25 918.3v5M1703.72 1602v-5.5M1703.72 918.3v5" stroke="#16144a" stroke-width="1.4" fill="none"/>
<path d="M1027.3 1601.1h9.5M1712.2 1601.1h-9.5M1027.3 1516.1h9.5M1712.2 1516.1h-9.5M1027.3 1430.7h9.5M1712.2 1430.7h-9.5M1027.3 1345.3h9.5M1712.2 1345.3h-9.5M1027.3 1259.9h9.5M1712.2 1259.9h-9.5M1027.3 1174.5h9.5M1712.2 1174.5h-9.5M1027.3 1089.1h9.5M1712.2 1089.1h-9.5M1027.3 1003.7h9.5M1712.2 1003.7h-9.5M1156.4 1601.5v-9.5M1156.4 918.3v9.5M1341.67 1601.5v-9.5M1341.67 918.3v9.5M1526.93 1601.5v-9.5M1526.93 918.3v9.5" stroke="#1c18b4" stroke-width="1.6" fill="none"/>
<path d="M1027.3 918.3H1712.2M1027.3 1601.5H1712.2" stroke="#1c18b4" stroke-width="1.7" fill="none" stroke-linecap="square"/>
<path d="M1027.3 918.3V1601.5M1712.2 918.3V1601.5" stroke="#1c18b4" stroke-width="1.9" fill="none" stroke-linecap="square"/>
<text class="b" transform="translate(977.63 924.6) scale(1 1.04)" font-size="29">20</text>
<text class="b" transform="translate(977.25 1010) scale(1 1.04)" font-size="29">15</text>
<text class="b" transform="translate(977.63 1095.4) scale(1 1.04)" font-size="29">10</text>
<text class="b" transform="translate(993.38 1180.8) scale(1 1.04)" font-size="29">5</text>
<text class="b" transform="translate(993.76 1266.2) scale(1 1.04)" font-size="29">0</text>
<text class="b" transform="translate(983.72 1351.6) scale(1 1.04)" font-size="29">-5</text>
<text class="b" transform="translate(967.98 1437) scale(1 1.04)" font-size="29">-10</text>
<text class="b" transform="translate(967.59 1522.4) scale(1 1.04)" font-size="29">-15</text>
<text class="b" transform="translate(967.98 1607.8) scale(1 1.04)" font-size="29">-20</text>
<text class="b" transform="translate(1136.37 1639.3) scale(1 1.04)" font-size="29">0.1</text>
<text class="b" transform="translate(1333.39 1639.3) scale(1 1.04)" font-size="29">1</text>
<text class="b" transform="translate(1510.79 1639.3) scale(1 1.04)" font-size="29">10</text>
<text class="b" transform="translate(1687.99 1639.3) scale(1 1.04)" font-size="29">100</text>
<text class="b" transform="translate(0 1693.5) scale(1 1.01)"><tspan x="949.06" y="0" font-size="35.1" textLength="799.21" lengthAdjust="spacingAndGlyphs">Mean EZ Area of RP340-Hybrid and Manual (mm</tspan><tspan x="1748.74" y="-17.04" font-size="24.8">2</tspan><tspan x="1763.27" y="0" font-size="35.1">)</tspan></text>
<g transform="translate(931 1477.5) rotate(-90)">
<text class="b" transform="translate(0 0) scale(1 1.01)"><tspan x="-2.34" y="0" font-size="35.1" textLength="438.91" lengthAdjust="spacingAndGlyphs">Difference of EZ Area (mm</tspan><tspan x="436.74" y="-16.95" font-size="24.8">2</tspan><tspan x="451.27" y="0" font-size="35.1">)</tspan></text>
</g>
<text class="b" transform="translate(898.82 907.5) scale(1 1.04)" font-size="29.6" textLength="22.49" lengthAdjust="spacingAndGlyphs">D</text>
<text class="r" x="1065.77" y="981.9" font-size="36.9" textLength="421.99" lengthAdjust="spacingAndGlyphs">DL Model: RP340 Hybrid</text>
<text class="r" transform="translate(0 1443.8) scale(1 1)"><tspan x="1308.43" y="0" font-size="34.6" textLength="351.56" lengthAdjust="spacingAndGlyphs">Mean diff = 0.082 mm</tspan><tspan x="1659.48" y="-13" font-size="24.2">2</tspan></text>
<text class="r" x="1308.48" y="1490.1" font-size="34.6" textLength="168.32" lengthAdjust="spacingAndGlyphs">SD = 0.825</text>
<text class="r" x="1308.5" y="1539.4" font-size="34.6" textLength="164.16" lengthAdjust="spacingAndGlyphs">SE = 0.089</text>
<text class="r" x="1309" y="1585.6" font-size="34.6" textLength="188.88" lengthAdjust="spacingAndGlyphs">CoR = 1.617</text>
</g>
</svg></body></html>
